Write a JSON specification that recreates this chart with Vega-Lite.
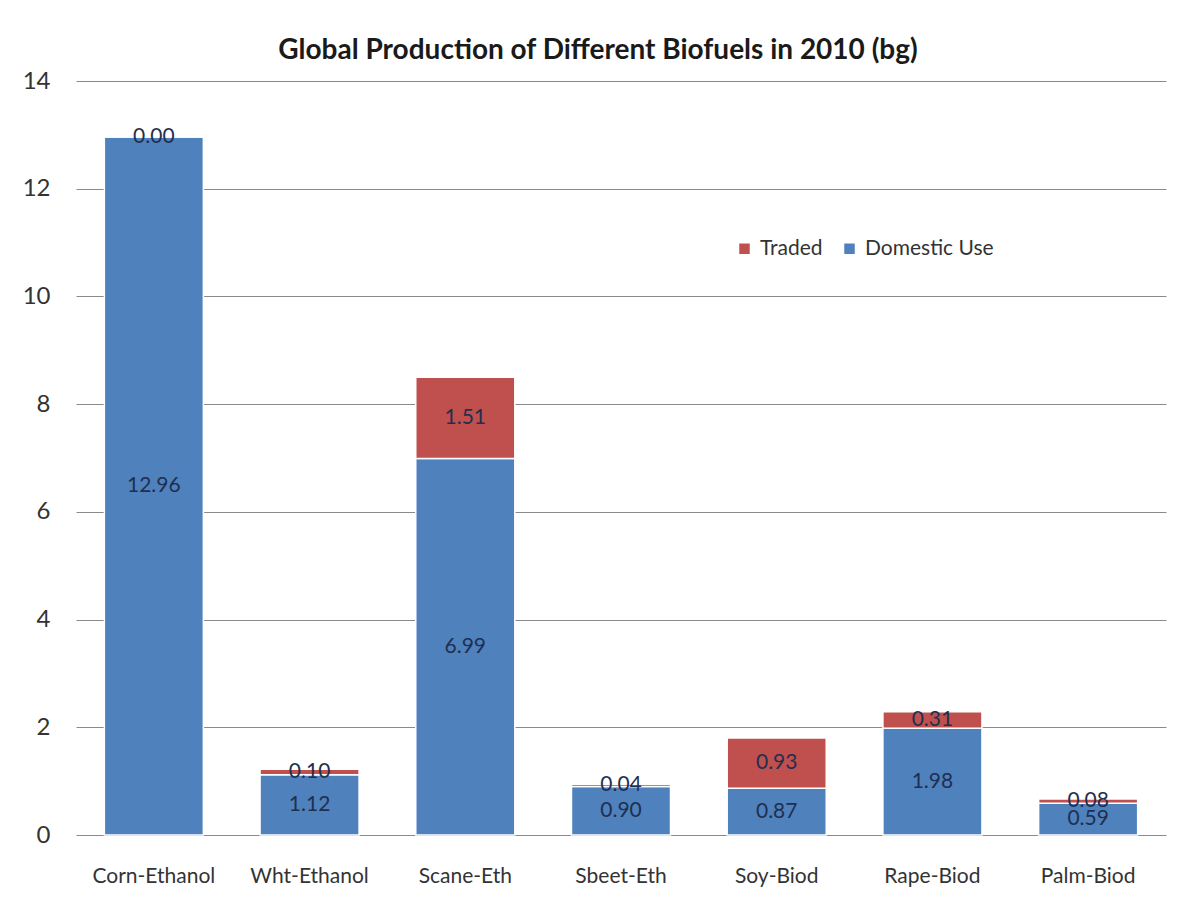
{
  "$schema": "https://vega.github.io/schema/vega-lite/v6.json",
  "width": 1090,
  "height": 754,
  "autosize": {"type": "none"},
  "padding": {"left": 76, "top": 81, "right": 26, "bottom": 75},
  "background": "white",
  "title": {
    "text": "Global Production of Different Biofuels in 2010 (bg)",
    "font": "Lato",
    "fontSize": 28,
    "fontWeight": "bold",
    "color": "#1a1a1a",
    "offset": 4,
    "dx": -23
  },
  "data": {
    "values": [
      {"fuel": "Corn-Ethanol", "type": "Domestic Use", "ord": 0, "value": 12.96},
      {"fuel": "Corn-Ethanol", "type": "Traded", "ord": 1, "value": 0.0},
      {"fuel": "Wht-Ethanol", "type": "Domestic Use", "ord": 0, "value": 1.12},
      {"fuel": "Wht-Ethanol", "type": "Traded", "ord": 1, "value": 0.10},
      {"fuel": "Scane-Eth", "type": "Domestic Use", "ord": 0, "value": 6.99},
      {"fuel": "Scane-Eth", "type": "Traded", "ord": 1, "value": 1.51},
      {"fuel": "Sbeet-Eth", "type": "Domestic Use", "ord": 0, "value": 0.90},
      {"fuel": "Sbeet-Eth", "type": "Traded", "ord": 1, "value": 0.04},
      {"fuel": "Soy-Biod", "type": "Domestic Use", "ord": 0, "value": 0.87},
      {"fuel": "Soy-Biod", "type": "Traded", "ord": 1, "value": 0.93},
      {"fuel": "Rape-Biod", "type": "Domestic Use", "ord": 0, "value": 1.98},
      {"fuel": "Rape-Biod", "type": "Traded", "ord": 1, "value": 0.31},
      {"fuel": "Palm-Biod", "type": "Domestic Use", "ord": 0, "value": 0.59},
      {"fuel": "Palm-Biod", "type": "Traded", "ord": 1, "value": 0.08}
    ]
  },
  "transform": [
    {"stack": "value", "groupby": ["fuel"], "sort": [{"field": "ord", "order": "ascending"}], "as": ["y0", "y1"]},
    {"calculate": "(datum.y0 + datum.y1) / 2", "as": "ymid"}
  ],
  "encoding": {
    "x": {
      "field": "fuel",
      "type": "nominal",
      "sort": ["Corn-Ethanol", "Wht-Ethanol", "Scane-Eth", "Sbeet-Eth", "Soy-Biod", "Rape-Biod", "Palm-Biod"],
      "scale": {"paddingInner": 0.364, "paddingOuter": 0.182},
      "axis": {
        "title": null,
        "labelAngle": 0,
        "labelFont": "Lato",
        "labelFontSize": 21,
        "labelColor": "#333333",
        "labelPadding": 30,
        "ticks": false,
        "domain": false
      }
    }
  },
  "layer": [
    {
      "mark": {"type": "bar", "stroke": "white", "strokeWidth": 1.5},
      "encoding": {
        "y": {
          "field": "y0",
          "type": "quantitative",
          "scale": {"domain": [0, 14]},
          "axis": {
            "title": null,
            "values": [0, 2, 4, 6, 8, 10, 12, 14],
            "labelFont": "Lato",
            "labelFontSize": 24,
            "labelColor": "#333333",
            "labelPadding": 26,
            "ticks": false,
            "domain": false,
            "grid": true,
            "gridColor": "#8a8a8a",
            "gridWidth": 1.2
          }
        },
        "y2": {"field": "y1"},
        "color": {
          "field": "type",
          "type": "nominal",
          "scale": {"domain": ["Traded", "Domestic Use"], "range": ["#C0504D", "#4F81BD"]},
          "legend": {
            "title": null,
            "orient": "none",
            "direction": "horizontal",
            "legendX": 658,
            "legendY": 157,
            "symbolType": "square",
            "symbolSize": 110,
            "symbolStrokeWidth": 0,
            "labelFont": "Lato",
            "labelFontSize": 21,
            "labelColor": "#333333",
            "columnPadding": 16,
            "labelOffset": 5
          }
        }
      }
    },
    {
      "mark": {"type": "text", "font": "Lato", "fontSize": 21, "color": "#1F2F50", "baseline": "middle"},
      "encoding": {
        "y": {"field": "ymid", "type": "quantitative"},
        "text": {"field": "value", "type": "quantitative", "format": ".2f"}
      }
    }
  ],
  "config": {"view": {"stroke": null}}
}
